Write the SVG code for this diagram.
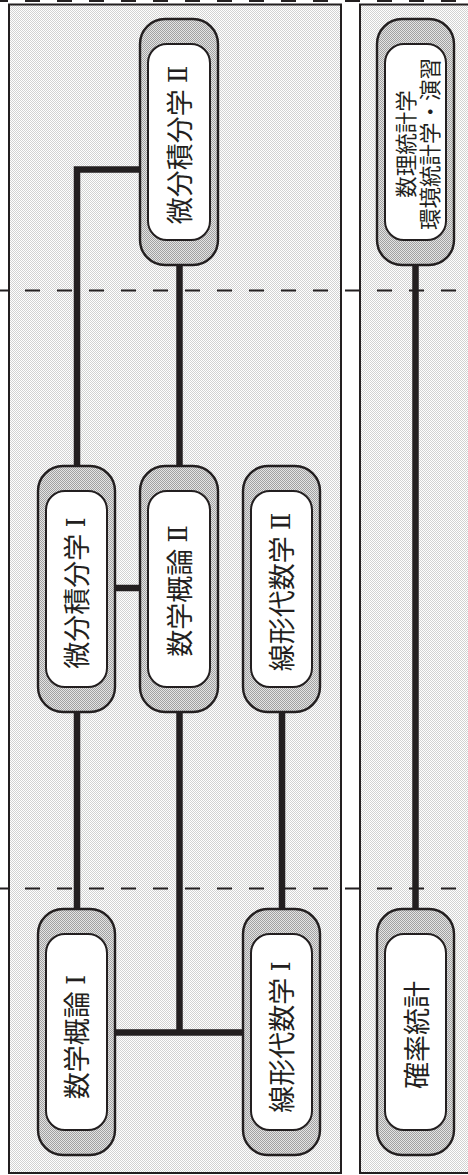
<svg xmlns="http://www.w3.org/2000/svg" width="468" height="1175" viewBox="0 0 468 1175">
<style>
.panel{fill:url(#bg);stroke:#231f20;stroke-width:2}
.outer{fill:url(#ring);stroke:#231f20;stroke-width:2.4}
.inner{fill:#ffffff;stroke:#231f20;stroke-width:2}
.dash{fill:none;stroke:#231f20;stroke-width:2;stroke-dasharray:15 17;stroke-dashoffset:7}
.conn{fill:none;stroke:#231f20;stroke-width:6.5;stroke-linejoin:miter;stroke-linecap:butt}
.lbl{font-family:"Noto Sans CJK JP","Noto Sans CJK SC",sans-serif;font-size:27px;fill:#231f20;text-anchor:middle;dominant-baseline:central}
.lbl2{font-size:21.5px}
.num{font-family:"DejaVu Serif","Liberation Serif",serif;font-size:26px}
</style>
<defs>
<pattern id="bg" width="2" height="2" patternUnits="userSpaceOnUse">
<rect width="2" height="2" fill="#ffffff"/>
<rect x="0" y="0" width="1" height="1" fill="#d2d2d2"/>
<rect x="1" y="1" width="1" height="1" fill="#d2d2d2"/>
</pattern>
<pattern id="ring" width="2" height="2" patternUnits="userSpaceOnUse">
<rect width="2" height="2" fill="#e4e4e4"/>
<rect x="0" y="0" width="1" height="1" fill="#a0a0a0"/>
<rect x="1" y="1" width="1" height="1" fill="#a0a0a0"/>
</pattern>
</defs>
<rect width="468" height="1175" fill="#ffffff"/>
<g id="panels">
<rect class="panel" x="9" y="4.5" width="332" height="1168.5"/>
<rect class="panel" x="360" y="4.5" width="120" height="1168.5"/>
</g>
<g id="gridlines">
<line class="dash" x1="0" y1="1" x2="468" y2="1"/>
<line class="dash" x1="0" y1="290.5" x2="468" y2="290.5"/>
<line class="dash" x1="0" y1="888.5" x2="468" y2="888.5"/>
</g>
<g id="connectors">
<line class="conn" x1="77" y1="712" x2="77" y2="909"/>
<path class="conn" d="M77,466 V169.5 H140"/>
<line class="conn" x1="179.5" y1="265" x2="179.5" y2="466"/>
<line class="conn" x1="115" y1="588" x2="140" y2="588"/>
<line class="conn" x1="179.5" y1="712" x2="179.5" y2="1032.5"/>
<line class="conn" x1="115" y1="1032.5" x2="243" y2="1032.5"/>
<line class="conn" x1="282" y1="712" x2="282" y2="909"/>
<line class="conn" x1="415.5" y1="265" x2="415.5" y2="909"/>
</g>
<g id="node-bibun2">
<rect class="outer" x="140" y="19" width="78" height="246" rx="25"/>
<rect class="inner" x="148" y="44" width="62" height="196" rx="19"/>
<text class="lbl" transform="translate(178,145) rotate(-90)">微分積分学 <tspan class="num">Ⅱ</tspan></text>
</g>
<g id="node-suri">
<rect class="outer" x="377" y="19" width="77" height="246" rx="25"/>
<rect class="inner" x="385" y="44" width="61" height="196" rx="19"/>
<text class="lbl lbl2" transform="translate(415.5,144) rotate(-90)"><tspan x="0" y="-12">数理統計学</tspan><tspan x="0" y="12">環境統計学・演習</tspan></text>
</g>
<g id="node-bibun1">
<rect class="outer" x="38" y="466" width="77" height="246" rx="25"/>
<rect class="inner" x="46" y="491" width="61" height="196" rx="19"/>
<text class="lbl" transform="translate(75.5,593) rotate(-90)">微分積分学 <tspan class="num">Ⅰ</tspan></text>
</g>
<g id="node-gairon2">
<rect class="outer" x="140" y="466" width="78" height="246" rx="25"/>
<rect class="inner" x="148" y="491" width="62" height="196" rx="19"/>
<text class="lbl" transform="translate(178,591) rotate(-90)">数学概論 <tspan class="num">Ⅱ</tspan></text>
</g>
<g id="node-senkei2">
<rect class="outer" x="243" y="466" width="77" height="246" rx="25"/>
<rect class="inner" x="251" y="491" width="61" height="196" rx="19"/>
<text class="lbl" transform="translate(280.5,592) rotate(-90)">線形代数学 <tspan class="num">Ⅱ</tspan></text>
</g>
<g id="node-gairon1">
<rect class="outer" x="38" y="909" width="77" height="246" rx="25"/>
<rect class="inner" x="46" y="934" width="61" height="196" rx="19"/>
<text class="lbl" transform="translate(75.5,1037) rotate(-90)">数学概論 <tspan class="num">Ⅰ</tspan></text>
</g>
<g id="node-senkei1">
<rect class="outer" x="243" y="909" width="77" height="246" rx="25"/>
<rect class="inner" x="251" y="934" width="61" height="196" rx="19"/>
<text class="lbl" transform="translate(280.5,1037) rotate(-90)">線形代数学 <tspan class="num">Ⅰ</tspan></text>
</g>
<g id="node-kakuritsu">
<rect class="outer" x="377" y="909" width="77" height="246" rx="25"/>
<rect class="inner" x="385" y="934" width="61" height="196" rx="19"/>
<text class="lbl" transform="translate(415,1035) rotate(-90)">確率統計</text>
</g>
</svg>
